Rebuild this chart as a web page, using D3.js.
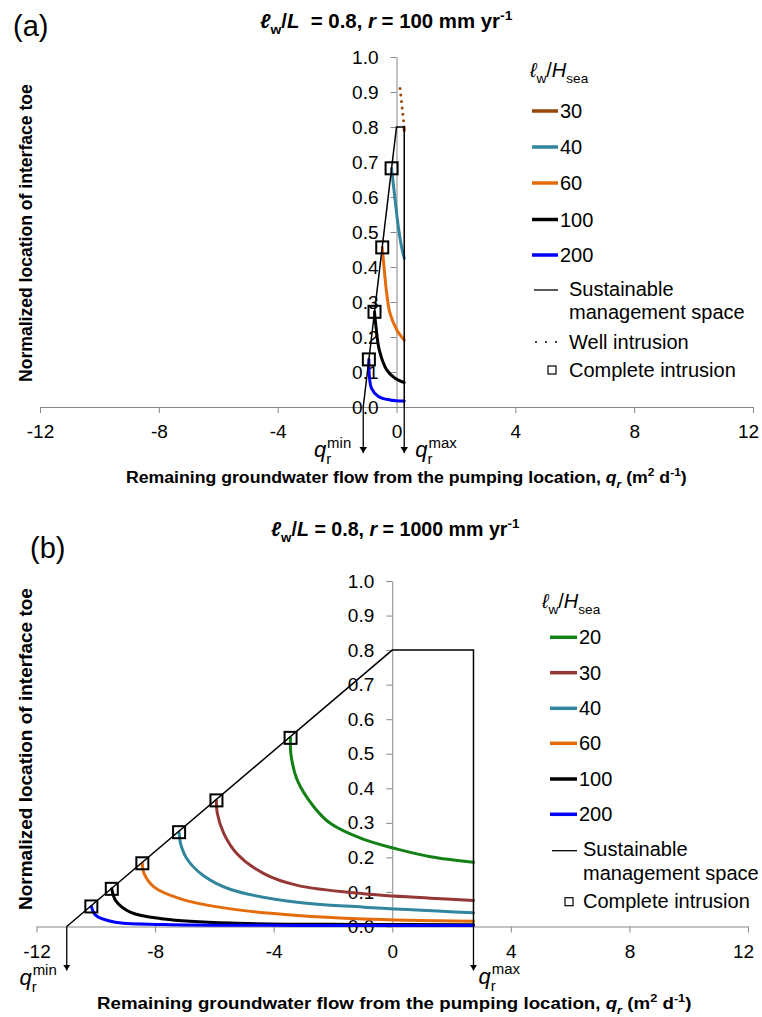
<!DOCTYPE html>
<html>
<head>
<meta charset="utf-8">
<script src="https://cdn.jsdelivr.net/npm/d3@7"></script>
<style>
body { margin: 0; background: #fff; }
svg { display: block; }
text { font-family: "Liberation Sans", Arial, sans-serif; white-space: pre; }
</style>
</head>
<body>
<script>
// shared axis ticks
var xTicks = [-12, -8, -4, 0, 4, 8, 12];
var yTicks = [0, 0.1, 0.2, 0.3, 0.4, 0.5, 0.6, 0.7, 0.8, 0.9, 1.0];

// ---- panel (a): lw/L = 0.8, r = 100 mm/yr ----
var aLabels = ['30', '40', '60', '100', '200'];
var aColors = ['#984807', '#31859C', '#E46C0A', '#000000', '#0000FF'];
var a30 = [[0.255, 0.80], [0.26, 0.79]];
var a40 = [[-0.165, 0.682], [-0.11, 0.639], [-0.02, 0.572], [0.06, 0.515], [0.17, 0.458], [0.26, 0.425]];
var a60 = [[-0.48, 0.456], [-0.42, 0.40], [-0.33, 0.325], [-0.22, 0.268], [0.01, 0.22], [0.26, 0.191]];
var a100 = [[-0.74, 0.272], [-0.69, 0.229], [-0.58, 0.163], [-0.33, 0.106], [-0.05, 0.082], [0.26, 0.07]];
var a200 = [[-0.93, 0.136], [-0.92, 0.096], [-0.84, 0.053], [-0.61, 0.03], [-0.22, 0.02], [0.26, 0.017]];
var aWell = [[0.12, 0.91], [0.26, 0.80]];
var aIntrusion = [[-0.165, 0.682], [-0.48, 0.456], [-0.74, 0.272], [-0.93, 0.136]];
var aSpace = [[-1.12, 0], [0, 0.8], [0.26, 0.8], [0.26, 0]];

// ---- panel (b): lw/L = 0.8, r = 1000 mm/yr ----
var bLabels = ['20', '30', '40', '60', '100', '200'];
var bColors = ['#138015', '#953735', '#31859C', '#E46C0A', '#000000', '#0000FF'];
var b20 = [[-3.43, 0.546], [-3.42, 0.50], [-3.2, 0.423], [-2.64, 0.346], [-2.08, 0.298], [-0.96, 0.252], [0.17, 0.224], [1.29, 0.202], [2.74, 0.186]];
var b30 = [[-5.93, 0.365], [-5.9, 0.327], [-5.68, 0.269], [-5.23, 0.21], [-4.33, 0.153], [-3.2, 0.119], [-0.96, 0.095], [1.29, 0.082], [2.74, 0.075]];
var b40 = [[-7.19, 0.273], [-7.14, 0.24], [-6.91, 0.194], [-6.35, 0.146], [-5.45, 0.107], [-3.2, 0.07], [-0.96, 0.056], [2.74, 0.04]];
var b60 = [[-8.43, 0.183], [-8.37, 0.153], [-8.03, 0.114], [-7.14, 0.08], [-5.45, 0.051], [-3.2, 0.032], [-0.96, 0.022], [2.74, 0.015]];
var b100 = [[-9.46, 0.109], [-9.33, 0.075], [-8.82, 0.041], [-7.7, 0.022], [-5.45, 0.01], [-0.96, 0.006], [2.74, 0.005]];
var b200 = [[-10.15, 0.058], [-10.0, 0.032], [-9.38, 0.013], [-7.7, 0.006], [-3.2, 0.003], [2.74, 0.003]];
var bIntrusion = [[-3.43, 0.546], [-5.93, 0.365], [-7.19, 0.273], [-8.43, 0.183], [-9.46, 0.109], [-10.15, 0.058]];
var bSpace = [[-10.98, 0], [0, 0.8], [2.74, 0.8], [2.74, 0]];

// rich text pieces
var titleA = [{t: 'ℓ', i: 1}, {t: 'w', sub: 1}, {t: '/'}, {t: 'L', i: 1}, {t: '  = 0.8, '}, {t: 'r', i: 1}, {t: ' = 100 mm yr'}, {t: '-1', sup: 1}];
var titleB = [{t: 'ℓ', i: 1}, {t: 'w', sub: 1}, {t: '/'}, {t: 'L', i: 1}, {t: ' = 0.8, '}, {t: 'r', i: 1}, {t: ' = 1000 mm yr'}, {t: '-1', sup: 1}];
var xTitle = [{t: 'Remaining groundwater flow from the pumping location, '}, {t: 'q', i: 1}, {t: 'r', i: 1, sub: 1}, {t: ' (m'}, {t: '2', sup: 1}, {t: ' d'}, {t: '-1', sup: 1}, {t: ')'}];
var yTitle = [{t: 'Normalized location of interface toe'}];
var legendHead = [{t: 'ℓ', i: 1}, {t: 'w', sub: 1}, {t: '/'}, {t: 'H', i: 1}, {t: 'sea', sub: 1}];
var qMinLabel = [{t: 'q', i: 1}, {t: 'r', sub: 1}, {t: 'min', sup: 1, dx: -4}];
var qMaxLabel = [{t: 'q', i: 1}, {t: 'r', sub: 1}, {t: 'max', sup: 1, dx: -4}];

var axisColor = '#878787';

var svg = d3.select('body').append('svg')
    .attr('width', 762)
    .attr('height', 1017);

svg.append('defs').append('marker')
    .attr('id', 'arrow')
    .attr('viewBox', '0 0 8 10')
    .attr('refX', 8)
    .attr('refY', 5)
    .attr('markerWidth', 6)
    .attr('markerHeight', 8)
    .attr('markerUnits', 'userSpaceOnUse')
    .attr('orient', 'auto')
    .append('path')
    .attr('d', 'M0,0L8,5L0,10z')
    .attr('fill', '#000');

function rich(parent, parts, fs) {
    var t = parent.append('text').style('font-size', fs + 'px');
    var shift = 0;
    parts.forEach(function (p) {
        var off = p.sub ? fs * 0.32 : p.sup ? -fs * 0.42 : 0;
        var ts = t.append('tspan').attr('dy', off - shift).text(p.t);
        if (p.dx) ts.attr('dx', p.dx);
        if (off) ts.style('font-size', (fs * 0.68) + 'px');
        if (p.i) ts.style('font-style', 'italic');
        shift = off;
    });
    return t;
}

// squeeze a bold title horizontally between x0 and x1 (narrow font look)
function fitH(t, x0, x1, baseline) {
    var w = t.node().getBBox().width;
    t.attr('transform', 'translate(' + x0 + ',' + baseline + ') scale(' + ((x1 - x0) / w) + ',1)');
}

function fitV(t, bx, y0, y1) {
    var w = t.node().getBBox().width;
    t.attr('transform', 'translate(' + bx + ',' + y1 + ') rotate(-90) scale(' + ((y1 - y0) / w) + ',1)');
}

function drawPanel(p) {
    var g = svg.append('g');
    var x = d3.scaleLinear().domain([-12, 12]).range(p.xRange);
    var y = d3.scaleLinear().domain([0, 1]).range(p.yRange);

    // axes cross at (0, 0)
    g.append('g')
        .attr('transform', 'translate(0,' + y(0) + ')')
        .call(d3.axisBottom(x).tickValues(xTicks).tickFormat(function (d) { return String(d); })
            .tickSize(6).tickSizeOuter(0).tickPadding(12))
        .selectAll('.tick text')
        .attr('dx', function (d) { return d === 12 ? -5 : 0; });
    g.append('g')
        .attr('transform', 'translate(' + x(0) + ',0)')
        .call(d3.axisLeft(y).tickValues(yTicks).tickFormat(d3.format('.1f'))
            .tickSize(6).tickSizeOuter(0).tickPadding(12));
    g.selectAll('.domain, .tick line').attr('stroke', axisColor);
    g.selectAll('.tick text')
        .attr('fill', '#000')
        .style('font-size', '19px')
        .style('font-family', '"Liberation Sans", Arial, sans-serif');

    var line = d3.line()
        .x(function (d) { return x(d[0]); })
        .y(function (d) { return y(d[1]); })
        .curve(d3.curveCatmullRom.alpha(0.5));
    var straight = d3.line()
        .x(function (d) { return x(d[0]); })
        .y(function (d) { return y(d[1]); });

    p.curves.forEach(function (c, k) {
        g.append('path')
            .attr('d', line(c))
            .attr('fill', 'none')
            .attr('stroke', p.colors[k])
            .attr('stroke-width', 3)
            .attr('stroke-linecap', 'round');
    });

    if (p.well) {
        g.append('path')
            .attr('d', straight(p.well))
            .attr('fill', 'none')
            .attr('stroke', p.colors[0])
            .attr('stroke-width', 3)
            .attr('stroke-linecap', 'round')
            .attr('stroke-dasharray', '0,6.5');
    }

    // sustainable management space
    g.append('path')
        .attr('d', straight(p.space))
        .attr('fill', 'none')
        .attr('stroke', '#000')
        .attr('stroke-width', 1.5);

    // q_r min / max arrows
    [p.space[0][0], p.space[p.space.length - 1][0]].forEach(function (q) {
        g.append('line')
            .attr('x1', x(q)).attr('x2', x(q))
            .attr('y1', y(0)).attr('y2', y(0) + p.arrowLen)
            .attr('stroke', '#000')
            .attr('stroke-width', 1.3)
            .attr('marker-end', 'url(#arrow)');
    });
    rich(g, qMinLabel, 22)
        .attr('x', x(p.space[0][0]) + p.qMin[0])
        .attr('y', y(0) + p.qMin[1])
        .attr('text-anchor', 'end');
    rich(g, qMaxLabel, 22)
        .attr('x', x(p.space[p.space.length - 1][0]) + p.qMax[0])
        .attr('y', y(0) + p.qMax[1]);

    // complete intrusion markers
    g.selectAll('rect.mark')
        .data(p.intrusion)
        .enter().append('rect')
        .attr('class', 'mark')
        .attr('x', function (d) { return x(d[0]) - 6; })
        .attr('y', function (d) { return y(d[1]) - 6; })
        .attr('width', 12)
        .attr('height', 12)
        .attr('fill', 'none')
        .attr('stroke', '#000')
        .attr('stroke-width', 2);

    // titles
    g.append('text')
        .attr('x', p.tag[0]).attr('y', p.tag[1])
        .style('font-size', '29px')
        .text(p.tagText);
    var tt = rich(g, p.title, 20).style('font-weight', 'bold');
    fitH(tt, p.titlePos[0], p.titlePos[1], p.titlePos[2]);
    var xt = rich(g, xTitle, 17).style('font-weight', 'bold');
    fitH(xt, p.xTitlePos[0], p.xTitlePos[1], p.xTitlePos[2]);
    var yt = rich(g, yTitle, 18).style('font-weight', 'bold');
    fitV(yt, p.yTitlePos[0], p.yTitlePos[1], p.yTitlePos[2]);

    // legend
    var L = p.legend;
    rich(g, legendHead, 20).attr('x', L.head[0]).attr('y', L.head[1]);
    p.labels.forEach(function (lab, k) {
        var yy = L.rows[k];
        g.append('line')
            .attr('x1', L.line[0]).attr('x2', L.line[1])
            .attr('y1', yy).attr('y2', yy)
            .attr('stroke', p.colors[k])
            .attr('stroke-width', 3.5);
        g.append('text')
            .attr('x', L.line[1] + 2).attr('y', yy + 7)
            .style('font-size', '20px')
            .text(lab);
    });
    var sy = L.space;
    g.append('line')
        .attr('x1', L.line[0] + 2).attr('x2', L.line[1])
        .attr('y1', sy).attr('y2', sy)
        .attr('stroke', '#000').attr('stroke-width', 1.3);
    g.append('text').attr('x', L.textX).attr('y', sy + 5.5).style('font-size', '20px').text('Sustainable');
    g.append('text').attr('x', L.textX).attr('y', sy + 29).style('font-size', '20px').text('management space');
    if (L.well) {
        g.append('line')
            .attr('x1', L.line[0] + 4).attr('x2', L.line[1])
            .attr('y1', L.well).attr('y2', L.well)
            .attr('stroke', '#000').attr('stroke-width', 2)
            .attr('stroke-linecap', 'round')
            .attr('stroke-dasharray', '0,10');
        g.append('text').attr('x', L.textX).attr('y', L.well + 6.5).style('font-size', '20px').text('Well intrusion');
    }
    g.append('rect')
        .attr('x', L.sq[0] - 4).attr('y', L.sq[1] - 4)
        .attr('width', 8).attr('height', 8)
        .attr('fill', 'none').attr('stroke', '#000').attr('stroke-width', 1.2);
    g.append('text').attr('x', L.textX).attr('y', L.sq[1] + 6.5).style('font-size', '20px').text('Complete intrusion');
}

drawPanel({
    xRange: [40, 753],
    yRange: [407, 57],
    labels: aLabels,
    colors: aColors,
    curves: [a30, a40, a60, a100, a200],
    well: aWell,
    intrusion: aIntrusion,
    space: aSpace,
    arrowLen: 46,
    qMin: [-12, 50],
    qMax: [11, 50],
    tag: [13, 36],
    tagText: '(a)',
    title: titleA,
    titlePos: [260, 513, 28],
    xTitlePos: [126, 687, 483],
    yTitlePos: [32, 84, 382],
    legend: {
        head: [530, 77],
        rows: [111, 147, 183, 219.5, 255],
        line: [532, 558],
        space: 290,
        well: 342,
        sq: [552, 370],
        textX: 569
    }
});

drawPanel({
    xRange: [36.5, 748],
    yRange: [926.5, 581],
    labels: bLabels,
    colors: bColors,
    curves: [b20, b30, b40, b60, b100, b200],
    well: null,
    intrusion: bIntrusion,
    space: bSpace,
    arrowLen: 44,
    qMin: [-10, 58],
    qMax: [5, 57],
    tag: [30, 558],
    tagText: '(b)',
    title: titleB,
    titlePos: [271, 520, 536],
    xTitlePos: [97, 692, 1009],
    yTitlePos: [32, 588, 910],
    legend: {
        head: [542, 608],
        rows: [637.3, 672.7, 708.3, 743.3, 779, 814.3],
        line: [550, 577],
        space: 850.7,
        well: null,
        sq: [569, 901.7],
        textX: 583
    }
});
</script>
</body>
</html>
